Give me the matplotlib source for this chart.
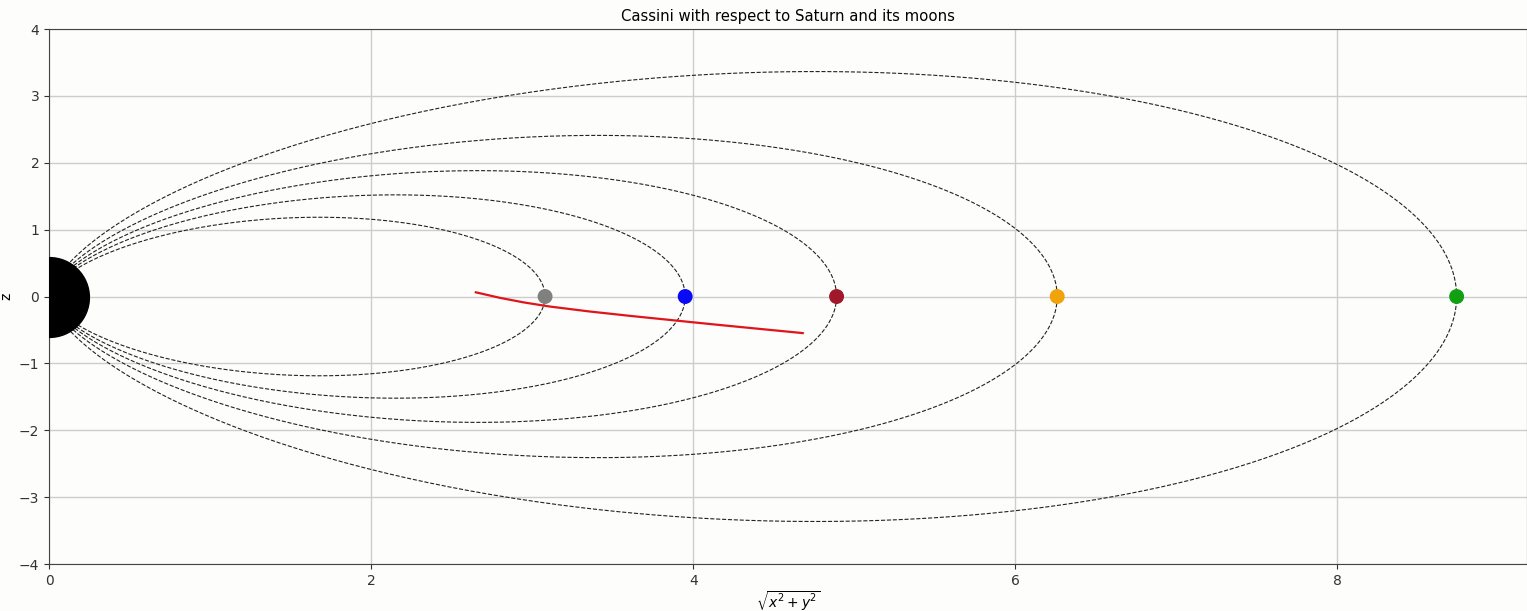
import numpy as np
import matplotlib.pyplot as plt

# moon orbital distances (Saturn radii) and colours
moon_names = ["Mimas", "Enceladus", "Tethys", "Dione", "Rhea"]
moon_dist = [3.08, 3.95, 4.89, 6.26, 8.74]
moon_colors = ["#808080", "#0a0af5", "#a0182a", "#f0a30a", "#12a012"]

# Cassini track (rho, z)
cassini_rho = [2.65, 2.80, 2.95, 3.11, 3.35, 3.61, 4.14, 4.68]
cassini_z = [0.063, -0.020, -0.089, -0.150, -0.222, -0.290, -0.420, -0.547]

fig = plt.figure(figsize=(15.27, 6.11), dpi=100)
fig.patch.set_facecolor("#fdfdfb")
ax = fig.add_axes([0.0321, 0.0769, 0.9679, 0.8756])
ax.set_facecolor("#fdfdfb")

# dipole field lines through each moon: r = L cos^2(lat)
lat = np.linspace(-np.pi / 2 * 0.98, np.pi / 2 * 0.98, 800)
for L in moon_dist:
    r = L * np.cos(lat) ** 2
    ax.plot(r * np.cos(lat), r * np.sin(lat), "--", color="#222222", lw=0.8, zorder=2)

# Saturn
ax.scatter([0], [0], s=3300, color="black", zorder=4)

# moons
ax.scatter(moon_dist, [0] * len(moon_dist), s=95, c=moon_colors, zorder=5)

# Cassini
ax.plot(cassini_rho, cassini_z, color="#e0151b", lw=1.6, zorder=6)

ax.set_xlim(0, 1.05 * max(moon_dist))
ax.set_ylim(-4, 4)
ax.set_xticks([0, 2, 4, 6, 8])
ax.set_yticks(range(-4, 5))
ax.grid(True, color="#cdcdcd", lw=1.0, zorder=0)
ax.set_axisbelow(True)
for s in ax.spines.values():
    s.set_color("#444444")
ax.tick_params(colors="#333333", labelsize=10)

ax.set_title("Cassini with respect to Saturn and its moons", fontsize=10.7)
ax.set_xlabel(r"$\sqrt{x^2+y^2}$", labelpad=1)
ax.set_ylabel("z")

fig.savefig("out.png", dpi=100, facecolor=fig.get_facecolor())
